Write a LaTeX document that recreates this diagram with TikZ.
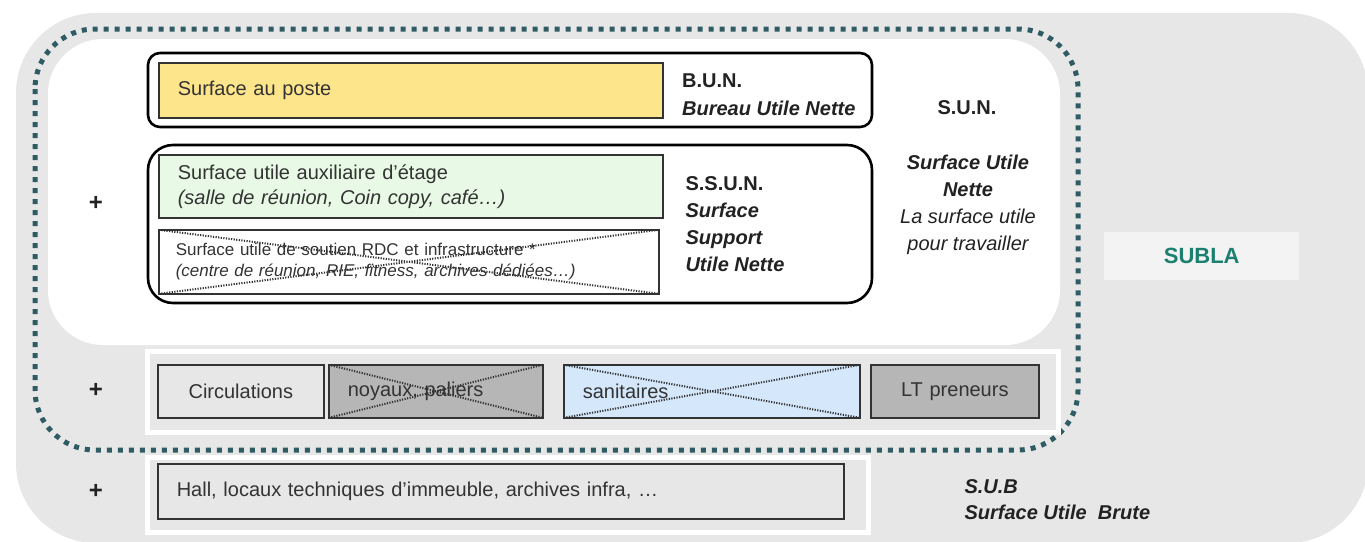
\documentclass[tikz,border=0pt]{standalone}
\usepackage{fontspec}
\setmainfont{Liberation Sans}
\usepackage{xcolor}
\usepackage{tikz}
\usetikzlibrary{positioning,calc}
\definecolor{bggray}{HTML}{E7E7E7}
\definecolor{posteyellow}{HTML}{FDE58C}
\definecolor{auxgreen}{HTML}{E8FAE5}
\definecolor{sanblue}{HTML}{D4E7FB}
\definecolor{coregray}{HTML}{B6B6B6}
\definecolor{sublabg}{HTML}{F3F3F3}
\definecolor{dotteal}{HTML}{2F5C64}
\definecolor{sublateal}{HTML}{1B8070}
\definecolor{boxline}{HTML}{333333}
\definecolor{lbltext}{HTML}{222222}

\begin{document}
\begin{tikzpicture}[
  x=1pt,y=-1pt,
  font=\fontsize{20}{24}\selectfont,
  box/.style={draw=boxline,line width=1.6pt,anchor=north west,inner ysep=0pt,inner xsep=19pt,align=left,text=boxline},
  cbox/.style={box,align=center,inner xsep=0pt},
  crossline/.style={draw=boxline,line width=2pt,dash pattern=on 1.2pt off 1.4pt},
  crossed/.style={path picture={\draw[crossline] (path picture bounding box.north west) -- (path picture bounding box.south east) (path picture bounding box.south west) -- (path picture bounding box.north east);}},
  frame/.style={draw=black,line width=2.6pt,rounded corners=#1},
  lbl/.style={font=\fontsize{20}{27}\selectfont\bfseries,align=left,anchor=west,text=lbltext},
  plus/.style={font=\fontsize{24}{24}\selectfont\bfseries,text=lbltext}
]
\useasboundingbox (0,0) rectangle (1365,541);
\clip (0,0) rectangle (1365,541);
\fill[bggray,rounded corners=80] (16,13) rectangle (1368,543);
\draw[dotteal,line width=5pt,dash pattern=on 5pt off 6pt,rounded corners=60] (35,29) rectangle (1078,450);
\fill[white,rounded corners=55] (48,39) rectangle (1060,345);
\draw[white,line width=5pt] (147,351) rectangle (1058,432);
\draw[white,line width=5pt] (147,457) rectangle (868,532);
\draw[frame=12] (148,53) rectangle (872,127);
\draw[frame=25] (148,145) rectangle (872,303);

\node[box,fill=posteyellow,text width=466pt,minimum height=55pt] (poste) at (158,62) {Surface au poste};
\node[lbl,font=\fontsize{20}{28}\selectfont\bfseries,right=15pt of poste,yshift=-4pt] (bun) {B.U.N.\\\textit{Bureau Utile Nette}};
\node[box,fill=auxgreen,text width=466pt,minimum height=63pt,font=\fontsize{20}{25}\selectfont] (aux) at (158,154) {Surface utile auxiliaire d’étage\\\textit{(salle de réunion, Coin copy, café…)}};
\node[box,crossed,fill=white,text width=466pt,minimum height=64pt,font=\fontsize{17}{21}\selectfont,inner xsep=17pt] (soutien) at (158,229) {Surface utile de soutien RDC et infrastructure *\\\textit{(centre de réunion, RIE, fitness, archives dédiées…)}};
\node[lbl] (ssun) at (682,224) {S.S.U.N.\\\textit{Surface}\\\textit{Support}\\\textit{Utile Nette}};

\node[lbl,anchor=center] (sun) at (967,108) {S.U.N.};
\node[lbl,anchor=center,align=center,font=\fontsize{20}{27}\selectfont\itshape] (sundef) at (968,205) {\textbf{Surface Utile}\\\textbf{Nette}\\La surface utile\\pour travailler};

\node[cbox,fill=bggray,text width=166pt,minimum height=53pt] (circ) at (157,364) {Circulations};
\node[box,crossed,fill=coregray,text width=176pt,minimum height=53pt] (noyaux) at (328,364) {noyaux, paliers};
\node[box,crossed,fill=sanblue,text width=258pt,minimum height=53pt] (sanit) at (563,364) {sanitaires};
\node[cbox,fill=coregray,text width=168pt,minimum height=53pt] (ltp) at (870,364) {LT preneurs};

\node[box,fill=bggray,text width=648pt,minimum height=55pt] (hall) at (157,463) {Hall, locaux techniques d’immeuble, archives infra, …};
\node[lbl,font=\fontsize{20}{26}\selectfont\bfseries\itshape] (sub) at (961,500) {S.U.B\\Surface Utile~ Brute};

\node[anchor=north west,fill=sublabg,minimum width=195pt,minimum height=48pt,inner sep=0pt,text=sublateal,font=\fontsize{22}{24}\selectfont\bfseries] (subla) at (1104,232) {SUBLA};

\node[plus] (p1) at (96,203) {+};
\node[plus] (p2) at (96,390) {+};
\node[plus] (p3) at (96,491) {+};
\end{tikzpicture}
\end{document}
